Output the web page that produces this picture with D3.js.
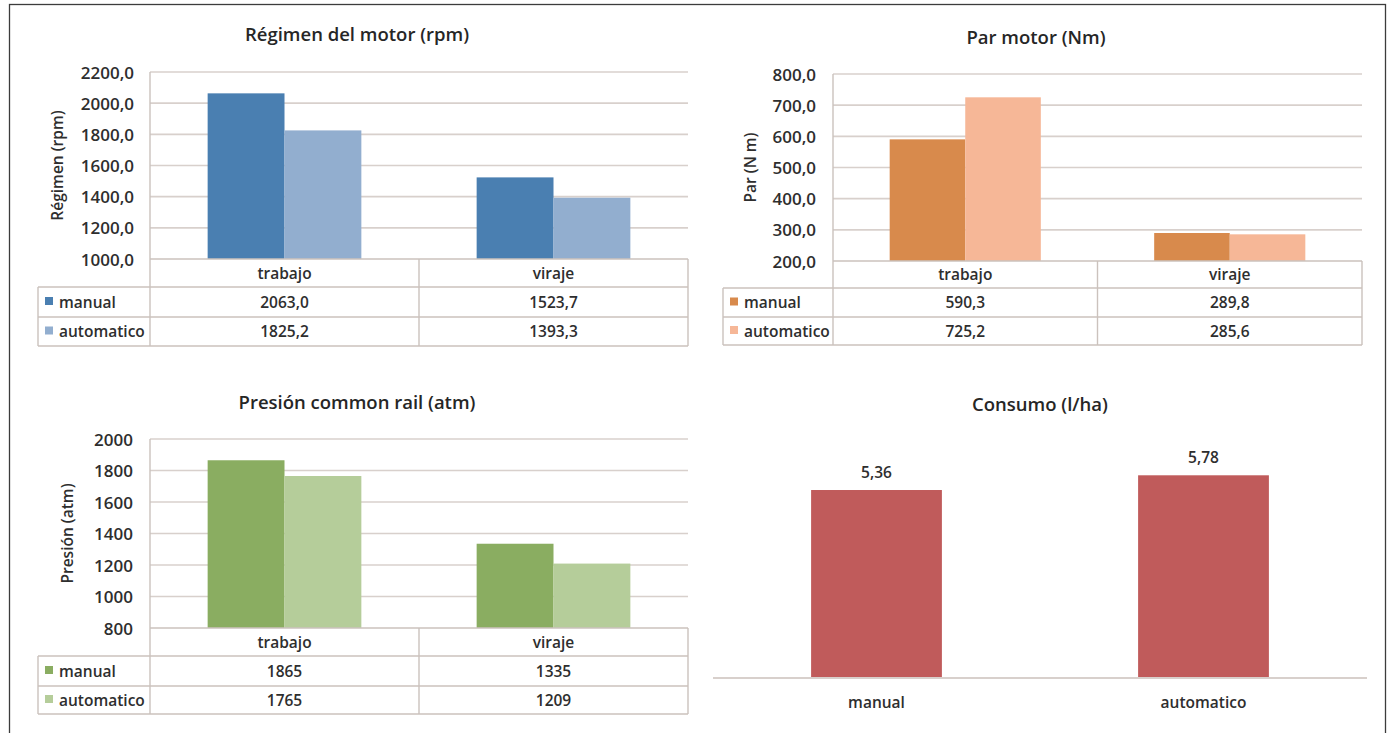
<!DOCTYPE html>
<html>
<head>
<meta charset="utf-8">
<script src="https://cdn.jsdelivr.net/npm/d3@7"></script>
<style>
  html, body { margin: 0; padding: 0; background: #ffffff; }
  svg { display: block; font-family: "Open Sans", "Noto Sans", sans-serif; }
  .tick-label { font-size: 17px; font-weight: 600; fill: #2e2e2e; }
  .title { font-size: 18.5px; font-weight: 600; fill: #262626; }
  .axis-title { font-size: 15.5px; font-weight: 600; fill: #2e2e2e; }
  .cell { font-size: 15.5px; font-weight: 600; fill: #2e2e2e; }
</style>
</head>
<body>
<svg id="chart" width="1389" height="733"></svg>
<script>
// ---- data ----
const categories = ["trabajo", "viraje"];
const seriesNames = ["manual", "automatico"];

const regimenManual = [2063.0, 1523.7];
const regimenAutomatico = [1825.2, 1393.3];
const regimenTicks = [1000, 1200, 1400, 1600, 1800, 2000, 2200];

const parManual = [590.3, 289.8];
const parAutomatico = [725.2, 285.6];
const parTicks = [200, 300, 400, 500, 600, 700, 800];

const presionManual = [1865, 1335];
const presionAutomatico = [1765, 1209];
const presionTicks = [800, 1000, 1200, 1400, 1600, 1800, 2000];

const consumoCategories = ["manual", "automatico"];
const consumoValues = [5.36, 5.78];

// Spanish number format (decimal comma)
const es = d3.formatLocale({ decimal: ",", thousands: ".", grouping: [3], currency: ["", " €"] });
const fmt1 = es.format(".1f");
const fmt0 = es.format(".0f");
const fmt2 = es.format(".2f");

const svg = d3.select("#chart");
const gridColor = "#d8d0cc";
const tableColor = "#cbc2bd";

// outer frame
svg.append("rect")
  .attr("x", 9.5).attr("y", 4.5)
  .attr("width", 1376).attr("height", 760)
  .attr("fill", "none").attr("stroke", "#3c3c3c").attr("stroke-width", 1.3);

// strip the default font attributes d3 puts on axis groups
function plainAxis(sel) {
  sel.attr("font-family", null).attr("font-size", null);
  sel.select(".domain").remove();
  sel.selectAll("text").attr("fill", null);
}

// Column chart with an attached data table underneath (Excel style)
function tableChart(opt) {
  const g = svg.append("g");
  const y = d3.scaleLinear().domain(d3.extent(opt.ticks)).range([opt.bottom, opt.top]);
  const x = d3.scaleBand().domain(categories).range([opt.left, opt.right]).padding(0);
  const xs = d3.scaleBand().domain(seriesNames).range([0, x.bandwidth()])
    .paddingInner(0).paddingOuter(0.75);
  const values = { manual: opt.manual, automatico: opt.automatico };

  // horizontal gridlines
  g.append("g").selectAll("line").data(opt.ticks.slice(1)).join("line")
    .attr("x1", opt.left).attr("x2", opt.right)
    .attr("y1", d => y(d)).attr("y2", d => y(d))
    .attr("stroke", gridColor).attr("stroke-width", 1.6);

  // y axis labels
  const yAxis = d3.axisLeft(y).tickValues(opt.ticks).tickFormat(opt.format).tickSize(0).tickPadding(0);
  const ya = g.append("g").attr("transform", `translate(${opt.labelRight},0)`).call(yAxis).call(plainAxis);
  ya.selectAll("text").attr("class", "tick-label").attr("dy", "0.36em");

  // bars
  seriesNames.forEach((s, si) => {
    g.append("g").selectAll("rect").data(categories).join("rect")
      .attr("x", (c) => x(c) + xs(s))
      .attr("width", xs.bandwidth())
      .attr("y", (c, i) => y(values[s][i]))
      .attr("height", (c, i) => y(y.domain()[0]) - y(values[s][i]))
      .attr("fill", opt.colors[si]);
  });

  // data table
  const rows = opt.rows; // [headerBottom, manualBottom, automaticoBottom]
  const tg = g.append("g").attr("stroke", tableColor).attr("stroke-width", 1.4).attr("fill", "none");
  // axis line / table top
  tg.append("line").attr("x1", opt.left).attr("x2", opt.right).attr("y1", opt.bottom).attr("y2", opt.bottom);
  // left axis line down to table bottom
  tg.append("line").attr("x1", opt.left).attr("x2", opt.left).attr("y1", opt.top).attr("y2", rows[2]);
  // category dividers + right edge
  [...categories.slice(1).map(c => x(c)), opt.right].forEach(px => {
    tg.append("line").attr("x1", px).attr("x2", px).attr("y1", opt.bottom).attr("y2", rows[2]);
  });
  // row lines spanning legend column
  rows.forEach(ry => {
    tg.append("line").attr("x1", opt.legendLeft).attr("x2", opt.right).attr("y1", ry).attr("y2", ry);
  });
  tg.append("line").attr("x1", opt.legendLeft).attr("x2", opt.legendLeft).attr("y1", rows[0]).attr("y2", rows[2]);

  // category header labels
  g.append("g").selectAll("text").data(categories).join("text")
    .attr("class", "cell").attr("text-anchor", "middle")
    .attr("x", c => x(c) + x.bandwidth() / 2)
    .attr("y", (opt.bottom + rows[0]) / 2).attr("dy", "0.36em")
    .text(c => c);

  // series rows: legend key, name and values
  seriesNames.forEach((s, si) => {
    const rTop = rows[si], rBot = rows[si + 1], cy = (rTop + rBot) / 2;
    g.append("rect").attr("x", opt.legendLeft + 7).attr("y", cy - 5)
      .attr("width", 8).attr("height", 8).attr("fill", opt.colors[si]);
    g.append("text").attr("class", "cell").attr("x", opt.legendLeft + 21).attr("y", cy).attr("dy", "0.36em").text(s);
    g.append("g").selectAll("text").data(categories).join("text")
      .attr("class", "cell").attr("text-anchor", "middle")
      .attr("x", c => x(c) + x.bandwidth() / 2)
      .attr("y", cy).attr("dy", "0.36em")
      .text((c, i) => opt.format(values[s][i]));
  });

  // titles
  g.append("text").attr("class", "title").attr("text-anchor", "middle")
    .attr("x", opt.titleX).attr("y", opt.titleY).text(opt.title);
  g.append("text").attr("class", "axis-title").attr("text-anchor", "middle")
    .attr("transform", `translate(${opt.axisTitleX},${(opt.top + opt.bottom) / 2}) rotate(-90)`)
    .attr("dy", "0.36em").text(opt.axisTitle);
}

tableChart({
  title: "Régimen del motor (rpm)", titleX: 357, titleY: 41,
  axisTitle: "Régimen (rpm)", axisTitleX: 57,
  ticks: regimenTicks, format: fmt1,
  manual: regimenManual, automatico: regimenAutomatico,
  colors: ["#4a7fb1", "#92aecf"],
  left: 150, right: 688, top: 72, bottom: 259, labelRight: 134,
  legendLeft: 38, rows: [287, 317, 346]
});

tableChart({
  title: "Par motor (Nm)", titleX: 1036, titleY: 44,
  axisTitle: "Par (N m)", axisTitleX: 750,
  ticks: parTicks, format: fmt1,
  manual: parManual, automatico: parAutomatico,
  colors: ["#d88a4c", "#f6b797"],
  left: 833, right: 1362, top: 74, bottom: 261, labelRight: 816,
  legendLeft: 723, rows: [288, 317, 345]
});

tableChart({
  title: "Presión common rail (atm)", titleX: 357, titleY: 409,
  axisTitle: "Presión (atm)", axisTitleX: 67,
  ticks: presionTicks, format: fmt0,
  manual: presionManual, automatico: presionAutomatico,
  colors: ["#8aad61", "#b5cd9a"],
  left: 150, right: 688, top: 439, bottom: 628, labelRight: 133,
  legendLeft: 38, rows: [656, 686, 714]
});

// Consumo: simple column chart with value labels
(function () {
  const g = svg.append("g");
  const left = 713, right = 1367, base = 678;
  const x = d3.scaleBand().domain(consumoCategories).range([left, right])
    .paddingInner(0.6).paddingOuter(0.3);
  const y = d3.scaleLinear().domain([0, 7]).range([base, base - 245.5]);

  g.append("g").selectAll("rect").data(consumoValues).join("rect")
    .attr("x", (d, i) => x(consumoCategories[i]))
    .attr("width", x.bandwidth())
    .attr("y", d => y(d))
    .attr("height", d => y(0) - y(d))
    .attr("fill", "#c05b5b");

  g.append("line").attr("x1", left).attr("x2", right).attr("y1", base).attr("y2", base)
    .attr("stroke", gridColor).attr("stroke-width", 1.8);

  g.append("g").selectAll("text").data(consumoValues).join("text")
    .attr("class", "cell").attr("text-anchor", "middle")
    .attr("x", (d, i) => x(consumoCategories[i]) + x.bandwidth() / 2)
    .attr("y", d => y(d) - 12)
    .text(d => fmt2(d));

  const xAxis = d3.axisBottom(x).tickSize(0).tickPadding(0);
  const xa = g.append("g").attr("transform", `translate(0,${base})`).call(xAxis).call(plainAxis);
  xa.selectAll("text").attr("class", "cell").attr("dy", null).attr("y", 30);

  g.append("text").attr("class", "title").attr("text-anchor", "middle")
    .attr("x", 1040).attr("y", 411).text("Consumo (l/ha)");
})();
</script>
</body>
</html>
